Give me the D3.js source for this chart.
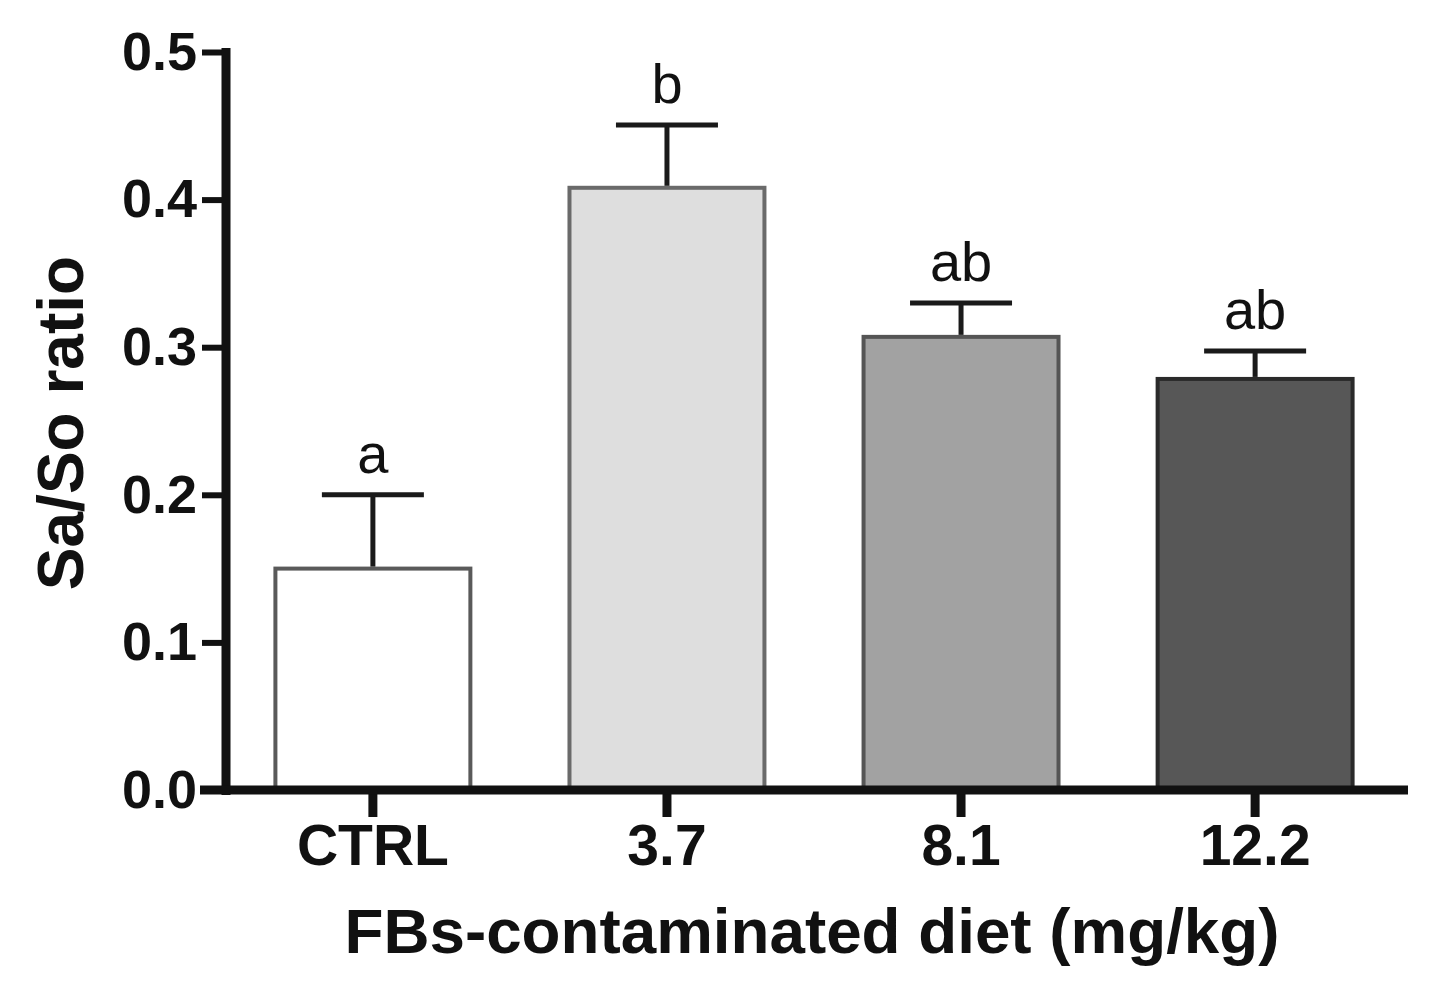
<!DOCTYPE html>
<html>
<head>
<meta charset="utf-8">
<script src="https://cdn.jsdelivr.net/npm/d3@7"></script>
<style>
  body { margin: 0; background: #fff; }
  text { font-family: "Liberation Sans", Arial, sans-serif; fill: #111; }
</style>
</head>
<body>
<div id="vizContainer"></div>
<script>
// chart values
var categories = ['CTRL', '3.7', '8.1', '12.2'];
var means = [0.150, 0.408, 0.307, 0.2785];
var sems = [0.050, 0.0425, 0.023, 0.019];
var letters = ['a', 'b', 'ab', 'ab'];
var yTicks = [0.0, 0.1, 0.2, 0.3, 0.4, 0.5];
var barFills = ['#ffffff', '#dedede', '#a2a2a2', '#575757'];
var barStrokes = ['#5a5a5a', '#6a6a6a', '#555555', '#2a2a2a'];

var width = 1440, height = 992;

var svg = d3.select('#vizContainer').append('svg')
    .attr('width', width)
    .attr('height', height)
    .attr('viewBox', '0 0 ' + width + ' ' + height);

var x = d3.scaleBand()
    .domain(categories)
    .range([226, 1402])
    .paddingInner(0.337)
    .paddingOuter(0.168);

var y = d3.scaleLinear()
    .domain([0, 0.5])
    .range([790, 52]);

// bars
svg.selectAll('rect.bar')
    .data(categories)
    .enter().append('rect')
    .attr('class', 'bar')
    .attr('x', function(d){ return x(d); })
    .attr('y', function(d, i){ return y(means[i]); })
    .attr('width', x.bandwidth())
    .attr('height', function(d, i){ return y(0) - y(means[i]); })
    .attr('fill', function(d, i){ return barFills[i]; })
    .attr('stroke', function(d, i){ return barStrokes[i]; })
    .attr('stroke-width', 4);

// error bars (upper only)
var err = svg.selectAll('g.err')
    .data(categories)
    .enter().append('g')
    .attr('class', 'err');

err.append('line')
    .attr('x1', function(d){ return x(d) + x.bandwidth() / 2; })
    .attr('x2', function(d){ return x(d) + x.bandwidth() / 2; })
    .attr('y1', function(d, i){ return y(means[i]) - 2; })
    .attr('y2', function(d, i){ return y(means[i] + sems[i]); })
    .attr('stroke', '#1a1a1a')
    .attr('stroke-width', 5);

err.append('line')
    .attr('x1', function(d){ return x(d) + x.bandwidth() / 2 - 51; })
    .attr('x2', function(d){ return x(d) + x.bandwidth() / 2 + 51; })
    .attr('y1', function(d, i){ return y(means[i] + sems[i]); })
    .attr('y2', function(d, i){ return y(means[i] + sems[i]); })
    .attr('stroke', '#1a1a1a')
    .attr('stroke-width', 5);

// significance letters
svg.selectAll('text.letter')
    .data(categories)
    .enter().append('text')
    .attr('class', 'letter')
    .attr('x', function(d){ return x(d) + x.bandwidth() / 2; })
    .attr('y', function(d, i){ return y(means[i] + sems[i]) - 22; })
    .attr('text-anchor', 'middle')
    .attr('font-size', 56)
    .text(function(d, i){ return letters[i]; });

// y axis
var yAxis = svg.append('g')
    .attr('transform', 'translate(226,0)')
    .call(d3.axisLeft(y).tickValues(yTicks).tickFormat(d3.format('.1f')).tickSize(24).tickPadding(5));

yAxis.select('.domain').remove();
yAxis.selectAll('.tick line').attr('stroke', '#111').attr('stroke-width', 6);
yAxis.selectAll('.tick text')
    .attr('font-size', 54)
    .attr('font-weight', 'bold')
    .attr('font-family', '"Liberation Sans", Arial, sans-serif')
    .attr('fill', '#111');

svg.append('line')
    .attr('x1', 226).attr('x2', 226)
    .attr('y1', 48).attr('y2', 795)
    .attr('stroke', '#111')
    .attr('stroke-width', 9);

// x axis
var xAxis = svg.append('g')
    .attr('transform', 'translate(0,790)')
    .call(d3.axisBottom(x).tickSize(27).tickPadding(8));

xAxis.select('.domain').remove();
xAxis.selectAll('.tick line').attr('stroke', '#111').attr('stroke-width', 9);
xAxis.selectAll('.tick text')
    .attr('font-size', 57)
    .attr('font-weight', 'bold')
    .attr('font-family', '"Liberation Sans", Arial, sans-serif')
    .attr('fill', '#111');

svg.append('line')
    .attr('x1', 200).attr('x2', 1408)
    .attr('y1', 790).attr('y2', 790)
    .attr('stroke', '#111')
    .attr('stroke-width', 9);

// axis titles
svg.append('text')
    .attr('x', 812)
    .attr('y', 953)
    .attr('text-anchor', 'middle')
    .attr('font-size', 63)
    .attr('font-weight', 'bold')
    .attr('textLength', 935)
    .attr('lengthAdjust', 'spacingAndGlyphs')
    .text('FBs-contaminated diet (mg/kg)');

svg.append('text')
    .attr('transform', 'translate(83,423) rotate(-90)')
    .attr('text-anchor', 'middle')
    .attr('font-size', 64)
    .attr('font-weight', 'bold')
    .text('Sa/So ratio');
</script>
</body>
</html>
